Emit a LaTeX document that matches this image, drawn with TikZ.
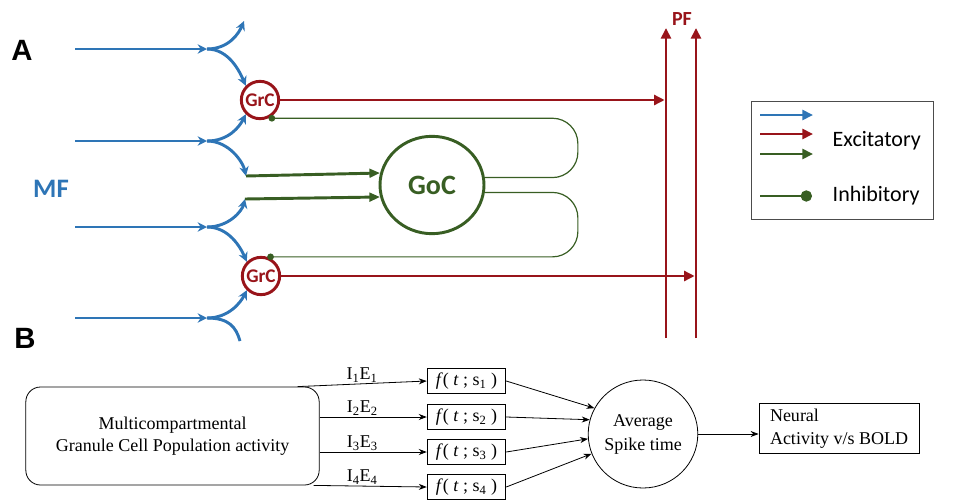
\documentclass[tikz,border=0pt]{standalone}
\usepackage{fontspec}
\setmainfont{Liberation Serif}
\setsansfont{Carlito}
\newfontfamily\headfont{Liberation Sans}
\usetikzlibrary{arrows.meta,shapes.geometric,calc}
\definecolor{mfblue}{RGB}{46,117,182}
\definecolor{pfred}{RGB}{152,20,26}
\definecolor{gocgreen}{RGB}{56,94,35}
\tikzset{
  mf/.style={mfblue,line width=2.2pt,-{Stealth[length=7pt,width=7pt]}},
  pf/.style={pfred,line width=2.2pt,-{Triangle[length=8pt,width=7.5pt]}},
  exc/.style={gocgreen,line width=2.2pt,-{Triangle[length=8pt,width=6.5pt]}},
  inh/.style={gocgreen,line width=0.9pt,rounded corners=19pt,-{Circle[length=5pt]}},
  grc/.style={circle,draw=pfred,line width=2.2pt,minimum size=28pt,inner sep=0pt,text=pfred,font=\sffamily\bfseries\fontsize{14.5}{16}\selectfont},
  goc/.style={ellipse,draw=gocgreen,line width=2.2pt,minimum width=78pt,minimum height=73pt,text=gocgreen,font=\sffamily\bfseries\fontsize{21}{24}\selectfont},
  lbl/.style={font=\headfont\bfseries\fontsize{22}{24}\selectfont},
  key/.style={font=\sffamily\fontsize{16.5}{18}\selectfont,anchor=west},
  bfont/.style={font=\fontsize{13.5}{16.5}\selectfont},
  flow/.style={-{Stealth[length=6pt,width=4.5pt]},line width=0.6pt},
  fbox/.style={draw,line width=0.6pt,minimum width=59pt,minimum height=19pt,inner sep=0pt,bfont},
}
\begin{document}
\begin{tikzpicture}[x=0.75pt,y=-0.75pt]
\useasboundingbox (0,0) rectangle (967,500);
\node[lbl] (labA) at (22,50) {A};
\node[lbl] (labB) at (25,338) {B};
\node[mfblue,font=\sffamily\bfseries\fontsize{20}{22}\selectfont] (mf) at (51,189) {MF};
\node[pfred,font=\sffamily\bfseries\fontsize{15}{17}\selectfont] (pf) at (682,19) {PF};
\node[grc] (grc1) at (260,100) {GrC};
\node[grc] (grc2) at (261,276) {GrC};
\node[goc] (goc) at (432,185) {GoC};
\foreach \y [count=\i] in {49,141,227,318}{
  \coordinate (mf\i) at (75,\y);
  \coordinate (br\i) at (207,\y);
  \draw[mf] (mf\i) -- (br\i);
}
\coordinate (tip) at (244,21);
\coordinate (g1) at (246,176);
\coordinate (g2) at (245,199);
\coordinate (tail) at (240,341);
\draw[mf] (br1) .. controls +(22,0) and +(-5,12) .. (tip);
\draw[mf] (br1) .. controls +(22,0) and +(-6,-14) .. (grc1.135);
\draw[mf] (br2) .. controls +(22,0) and +(-6,12) .. (grc1.-135);
\draw[mf] (br2) .. controls +(22,0) and +(-3,-14) .. (g1);
\draw[mf] (br3) .. controls +(22,0) and +(-3,12) .. (g2);
\draw[mf] (br3) .. controls +(22,0) and +(-6,-14) .. (grc2.135);
\draw[mf] (br4) .. controls +(22,0) and +(-6,12) .. (grc2.-135);
\draw[mf,-] (br4) .. controls +(22,0) and +(-4,-14) .. (tail);
\draw[exc] (g1) -- (goc.167);
\draw[exc] (g2) -- (goc.-167);
\draw[inh] (goc.8) -- ++(93,0) |- (grc1.-65);
\draw[inh] (goc.-8) -- ++(93,0) |- (grc2.72);
\coordinate (pf1a) at (666,338);
\coordinate (pf1b) at (666,28);
\coordinate (pf2a) at (696,338);
\coordinate (pf2b) at (696,28);
\draw[pf] (pf1a) -- (pf1b);
\draw[pf] (pf2a) -- (pf2b);
\draw[pf,shorten >=1pt] (grc1) -- (grc1 -| pf1a);
\draw[pf,shorten >=1pt] (grc2) -- (grc2 -| pf2a);
\node[draw=black!70,line width=0.8pt,minimum width=136pt,minimum height=88pt,inner sep=0pt] (legend) at (842.5,160.5) {};
\foreach \c/\y in {mfblue/115,pfred/134,gocgreen/154}
  \draw[pf,color=\c] (760,\y) -- (813,\y);
\draw[gocgreen,line width=0.9pt,-{Circle[length=8.5pt]}] (760,196) -- (812,196);
\node[key] (excit) at (828,141) {Excitatory};
\node[key] (inhib) at (828,196) {Inhibitory};
\node[draw,rounded corners=11pt,line width=0.6pt,minimum width=220pt,minimum height=73.5pt,align=center,bfont] (pop) at (172.5,436) {Multicompartmental\\Granule Cell Population activity};
\foreach \i/\y in {1/381,2/417,3/452,4/487}
  \node[fbox] (f\i) at (466.5,\y) {\textit{f}(~\textit{t}~;~s\textsubscript{\i}~)};
\draw[flow] ($(pop.north east)+(-22,0)$) -- node[above,bfont,inner sep=1pt] {I\textsubscript{1}E\textsubscript{1}} (f1.west);
\draw[flow] (pop.east |- f2) -- node[above,pos=0.4,bfont,inner sep=1pt] {I\textsubscript{2}E\textsubscript{2}} (f2.west);
\draw[flow] (pop.east |- f3) -- node[above,pos=0.4,bfont,inner sep=1pt] {I\textsubscript{3}E\textsubscript{3}} (f3.west);
\draw[flow] ($(pop.south east)+(-6,0)$) -- node[above,pos=0.43,bfont,inner sep=1pt] {I\textsubscript{4}E\textsubscript{4}} (f4.west);
\node[ellipse,draw,line width=0.6pt,minimum width=72pt,minimum height=81pt,inner sep=0pt,align=center,font=\fontsize{13.5}{18}\selectfont] (avg) at (643,434) {Average\\Spike time};
\draw[flow] (f1.east) -- (avg.152);
\draw[flow] (f2.east) -- (avg.165);
\draw[flow] (f3.east) -- (avg.-175);
\draw[flow] (f4.east) -- (avg.-159);
\node[draw,line width=0.6pt,minimum width=120pt,minimum height=38pt,inner sep=0pt,align=left,font=\fontsize{13.5}{17}\selectfont] (bold) at (839,428.5) {Neural\\Activity v/s BOLD};
\draw[flow] (avg.east) -- (avg.east -| bold.west);
\end{tikzpicture}
\end{document}
